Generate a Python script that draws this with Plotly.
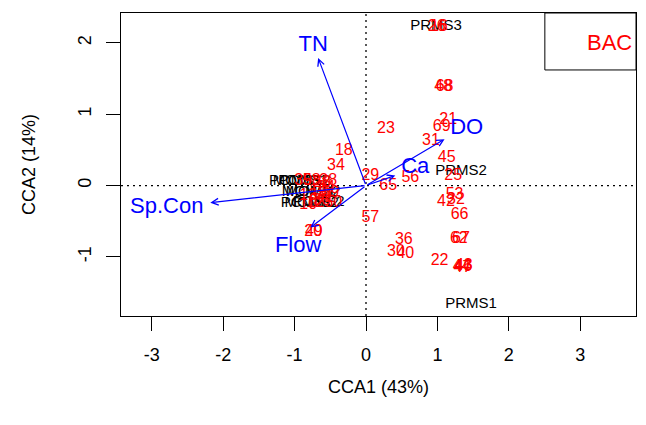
import plotly.graph_objects as go

# Site scores (red numbers)
site_labels = ["26", "16", "68", "48", "21", "69", "23", "31", "45", "25", "56", "65", "29", "18", "34",
               "53", "42", "32", "66", "57", "36", "30", "40", "62", "67", "22", "44", "46", "47", "43",
               "20", "49", "39", "58", "28", "38", "19", "59", "13", "41", "12", "33", "50", "10", "24"]
site_x = [0.99, 1.02, 1.10, 1.08, 1.15, 1.06, 0.28, 0.91, 1.13, 1.22, 0.62, 0.31, 0.06, -0.31, -0.42,
          1.24, 1.12, 1.26, 1.31, 0.06, 0.53, 0.42, 0.55, 1.30, 1.33, 1.03, 1.34, 1.36, 1.35, 1.37,
          -0.74, -0.73, -0.88, -0.76, -0.62, -0.53, -0.67, -0.50, -0.81, -0.57, -0.71, -0.62, -0.46, -0.81, -0.56]
site_y = [2.23, 2.23, 1.38, 1.38, 0.92, 0.82, 0.79, 0.62, 0.39, 0.14, 0.11, 0.00, 0.13, 0.49, 0.27,
          -0.13, -0.23, -0.20, -0.41, -0.46, -0.77, -0.93, -0.96, -0.75, -0.75, -1.06, -1.14, -1.14, -1.15, -1.13,
          -0.65, -0.65, 0.06, 0.07, 0.03, 0.06, -0.07, -0.10, -0.14, -0.17, -0.25, -0.21, -0.24, -0.28, -0.04]

# Group labels (black)
group_labels = ["PRMS3", "PRMS2", "PRMS1", "POMS1", "MOMS1", "POMS2", "MCMS1", "MOMS2",
                "PCMS1", "MCMS2", "PCMS2"]
group_x = [0.98, 1.33, 1.47, -0.99, -0.92, -0.86, -0.80, -0.74, -0.83, -0.76, -0.66]
group_y = [2.24, 0.20, -1.66, 0.06, 0.06, 0.06, -0.10, -0.10, -0.25, -0.25, -0.24]

# Environmental vectors (blue arrows)
env_labels = ["TN", "DO", "Ca", "Sp.Con", "Flow"]
env_x = [-0.67, 1.10, 0.41, -2.18, -0.78]
env_y = [1.79, 0.65, 0.14, -0.24, -0.59]
env_lab_x = [-0.74, 1.41, 0.69, -2.79, -0.95]
env_lab_y = [1.97, 0.80, 0.25, -0.31, -0.85]

x_ticks = [-3, -2, -1, 0, 1, 2, 3]
y_ticks = [-1, 0, 1, 2]
x_title = "CCA1 (43%)"
y_title = "CCA2 (14%)"
legend_text = "BAC"

FONT = "Liberation Sans, Arial, sans-serif"

fig = go.Figure()

fig.add_trace(go.Scatter(x=group_x, y=group_y, text=group_labels, mode="text",
                         textfont=dict(family=FONT, size=15, color="black"),
                         hoverinfo="text", showlegend=False))
fig.add_trace(go.Scatter(x=site_x, y=site_y, text=site_labels, mode="text",
                         textfont=dict(family=FONT, size=16, color="#FF0000"),
                         hoverinfo="text", showlegend=False))
fig.add_trace(go.Scatter(x=env_lab_x, y=env_lab_y, text=env_labels, mode="text",
                         textfont=dict(family=FONT, size=22, color="#0000FF"),
                         hoverinfo="text", showlegend=False))

for ex, ey in zip(env_x, env_y):
    fig.add_annotation(x=ex, y=ey, ax=0, ay=0, xref="x", yref="y", axref="x", ayref="y",
                       showarrow=True, arrowhead=5, arrowsize=1.1, arrowwidth=1.2,
                       arrowcolor="#0000FF", text="")

# dotted zero lines
fig.add_shape(type="line", xref="x", yref="paper", x0=0, x1=0, y0=0, y1=1,
              line=dict(color="black", width=1.3, dash="2px,4px"), layer="below")
fig.add_shape(type="line", xref="paper", yref="y", x0=0, x1=1, y0=0, y1=0,
              line=dict(color="black", width=1.3, dash="2px,4px"), layer="below")

# legend box
fig.add_shape(type="rect", xref="paper", yref="paper", x0=0.823, x1=1.0, y0=0.812, y1=1.0,
              line=dict(color="black", width=1), fillcolor="white", layer="below")
fig.add_annotation(x=0.948, y=0.901, xref="paper", yref="paper", text=legend_text, showarrow=False,
                   xanchor="center", yanchor="middle",
                   font=dict(family=FONT, size=22, color="#FF0000"))

axis_common = dict(showline=True, linecolor="black", linewidth=1, mirror=True,
                   ticks="outside", ticklen=14, tickcolor="black", tickwidth=1,
                   showgrid=False, zeroline=False, automargin=False,
                   tickfont=dict(family=FONT, size=18, color="black"),
                   ticklabelstandoff=8)

fig.update_xaxes(range=[-3.43, 3.78], tickvals=x_ticks, ticktext=[str(v) for v in x_ticks],
                 title=dict(text=x_title, font=dict(family=FONT, size=18, color="black"), standoff=16),
                 **axis_common)
fig.update_yaxes(range=[-1.83, 2.42], tickvals=y_ticks, ticktext=[str(v) for v in y_ticks],
                 tickangle=-90,
                 title=dict(text=y_title, font=dict(family=FONT, size=18, color="black"), standoff=34),
                 **axis_common)

fig.update_layout(width=630, height=400, margin=dict(l=113, r=2, t=5, b=92),
                  plot_bgcolor="white", paper_bgcolor="white", showlegend=False)

fig.write_html("out.html")
